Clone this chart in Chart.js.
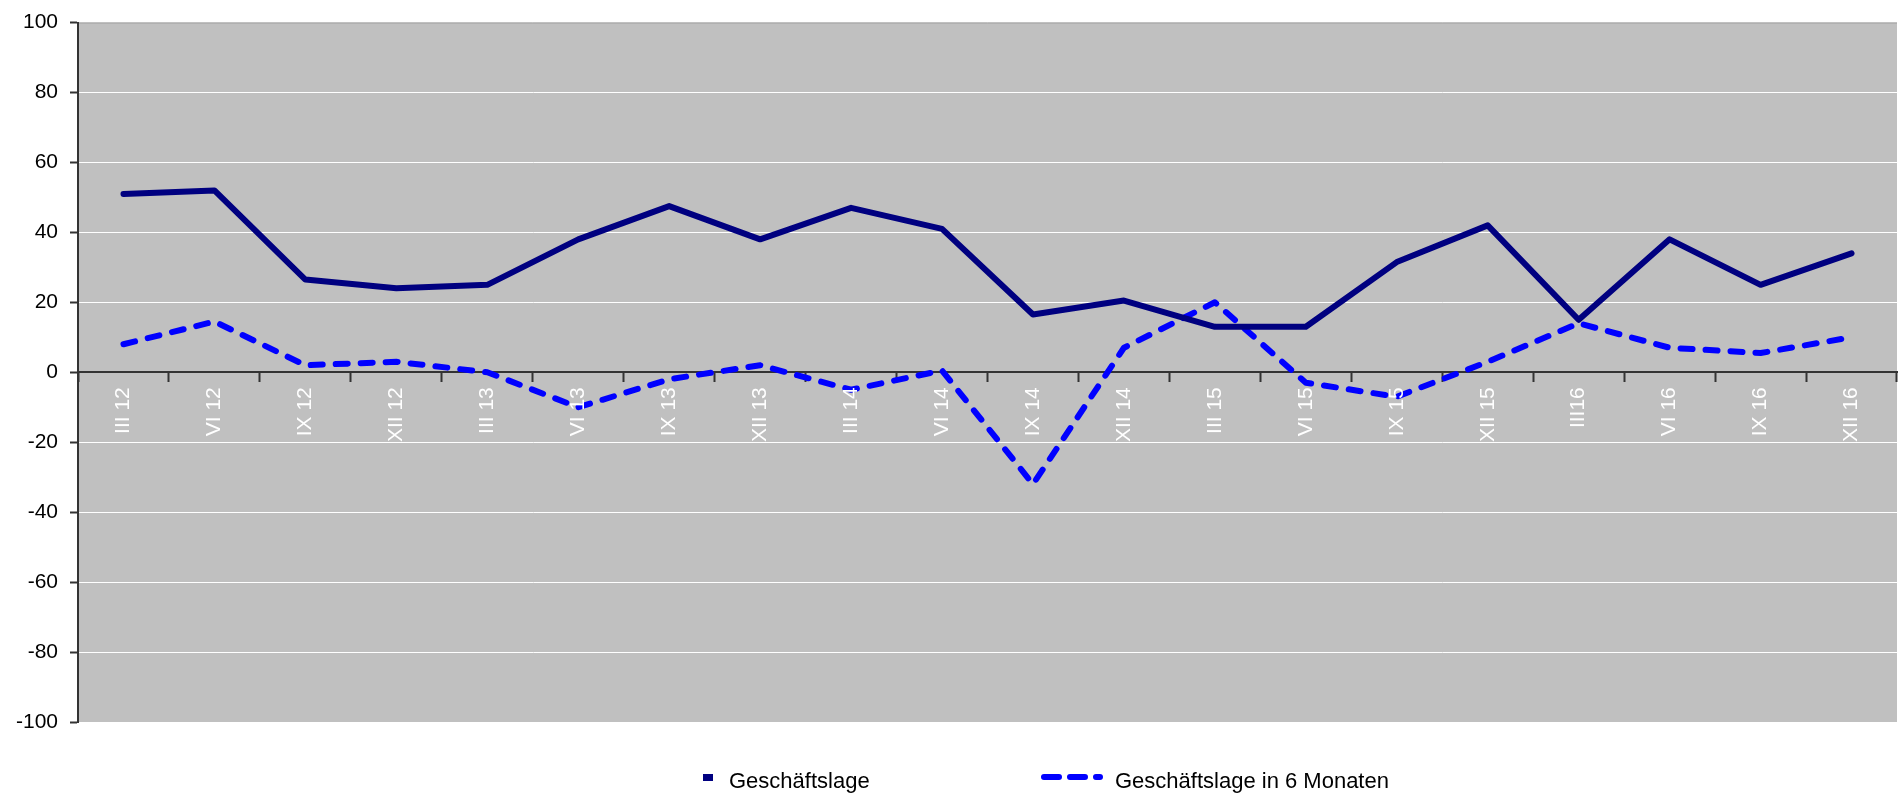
<!DOCTYPE html>
<html>
<head>
<meta charset="utf-8">
<script src="https://cdn.jsdelivr.net/npm/chart.js@4/dist/chart.umd.min.js"></script>
<style>
  html, body { margin: 0; padding: 0; background: #fff; }
  #wrap { position: relative; width: 1899px; height: 796px; }
  .legend-text { position: absolute; font-family: 'Liberation Sans', Arial, sans-serif; font-size: 22px; color: #000; line-height: 22px; }
</style>
</head>
<body>
<div id="wrap">
  <canvas id="myChart" width="1899" height="796"></canvas>
  <div style="position:absolute; left:703px; top:774px; width:10px; height:7px; background:#000080;"></div>
  <div class="legend-text" style="left:729px; top:770px;">Geschäftslage</div>
  <svg style="position:absolute; left:1040px; top:770px;" width="64" height="14">
    <line x1="4" y1="7" x2="60" y2="7" stroke="#0000ff" stroke-width="6" stroke-linecap="round" stroke-dasharray="15 11"></line>
  </svg>
  <div class="legend-text" style="left:1115px; top:770px;">Geschäftslage in 6 Monaten</div>
</div>
<script>
const quarters = ['III 12', 'VI 12', 'IX 12', 'XII 12', 'III 13', 'VI 13', 'IX 13', 'XII 13', 'III 14', 'VI 14',
  'IX 14', 'XII 14', 'III 15', 'VI 15', 'IX 15', 'XII 15', 'III16', 'VI 16', 'IX 16', 'XII 16'];
const geschaeftslage = [51, 52, 26.5, 24, 25, 38, 47.5, 38, 47, 41, 16.5, 20.5, 13, 13, 31.5, 42, 15, 38, 25, 34];
const in6Monaten = [8, 14.5, 2, 3, 0, -10, -2, 2, -5, 0.5, -32, 7, 20, -3, -7, 3, 14, 7, 5.5, 10];
const yMin = -100;
const yMax = 100;
const yStep = 20;

const ctx = document.getElementById('myChart');

// grey plot area like the old Excel chart
const plotBackground = {
  id: 'plotBackground',
  beforeDraw(chart) {
    const a = chart.chartArea;
    chart.ctx.save();
    chart.ctx.fillStyle = '#c0c0c0';
    chart.ctx.fillRect(a.left, a.top, a.right - a.left, a.bottom - a.top);
    chart.ctx.strokeStyle = '#a0a0a0';
    chart.ctx.lineWidth = 1;
    chart.ctx.beginPath();
    chart.ctx.moveTo(a.left, a.top + 0.5);
    chart.ctx.lineTo(a.right, a.top + 0.5);
    chart.ctx.stroke();
    chart.ctx.restore();
  }
};

new Chart(ctx, {
  type: 'line',
  data: {
    labels: quarters,
    datasets: [{
      label: 'Geschäftslage',
      data: geschaeftslage,
      borderColor: '#000080',
      backgroundColor: '#000080',
      borderWidth: 6,
      pointRadius: 0,
      tension: 0,
      borderJoinStyle: 'round',
      borderCapStyle: 'round'
    }, {
      label: 'Geschäftslage in 6 Monaten',
      data: in6Monaten,
      borderColor: '#0000ff',
      backgroundColor: '#0000ff',
      borderWidth: 6,
      borderDash: [12, 13],
      pointRadius: 0,
      tension: 0,
      borderJoinStyle: 'round',
      borderCapStyle: 'round'
    }]
  },
  options: {
    responsive: false,
    animation: false,
    layout: { padding: { top: 20, bottom: 74, right: 2, left: 0 } },
    plugins: {
      legend: { display: false },
      tooltip: { enabled: false }
    },
    scales: {
      x: {
        position: { y: 0 },
        offset: true,
        grid: {
          offset: true,
          drawOnChartArea: false,
          tickLength: 9,
          tickColor: '#333',
          tickWidth: 2
        },
        border: { color: '#333', width: 2 },
        ticks: {
          z: 1,
          color: '#ffffff',
          padding: 6,
          autoSkip: false,
          minRotation: 90,
          maxRotation: 90,
          font: { family: "'Liberation Sans', Arial, sans-serif", size: 21 }
        }
      },
      y: {
        min: yMin,
        max: yMax,
        afterFit(scale) { scale.width = 78; },
        grid: {
          color: c => (c.tick && (c.tick.value === yMin || c.tick.value === yMax || c.tick.value === 0)) ? 'rgba(0,0,0,0)' : '#ffffff',
          lineWidth: 1,
          borderDash: [3, 3],
          tickLength: 8,
          tickColor: '#333',
          tickWidth: 2
        },
        border: { color: '#333', width: 2 },
        ticks: {
          stepSize: yStep,
          color: '#000',
          padding: 12,
          font: { family: "'Liberation Sans', Arial, sans-serif", size: 21, lineHeight: 1 }
        }
      }
    }
  },
  plugins: [plotBackground]
});
</script>
</body>
</html>
